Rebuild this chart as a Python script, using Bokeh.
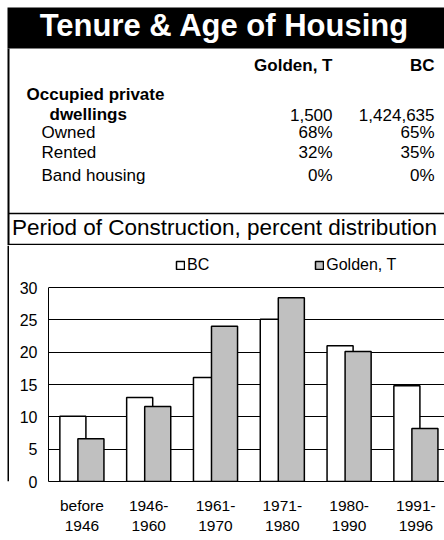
import numpy as np
from bokeh.plotting import figure
from bokeh.models import Range1d, FixedTicker, Legend, LegendItem
from bokeh.layouts import column, row
from bokeh.embed import file_html
from bokeh.resources import INLINE
from bokeh.core.properties import value

# ---------------- data ----------------
title = "Tenure & Age of Housing"
col_headers = ["Golden, T", "BC"]
group_label = ["Occupied private", "dwellings"]
dwellings = ["1,500", "1,424,635"]
row_labels = ["Owned", "Rented", "Band housing"]
golden_tenure = ["68%", "32%", "0%"]
bc_tenure = ["65%", "35%", "0%"]
chart_title = "Period of Construction, percent distribution"
periods = ["before\n1946", "1946-\n1960", "1961-\n1970", "1971-\n1980", "1980-\n1990", "1991-\n1996"]
bc_values = [10.1, 13.0, 16.1, 25.1, 21.0, 14.8]
golden_values = [6.6, 11.6, 24.0, 28.4, 20.1, 8.2]
y_ticks = [0, 5, 10, 15, 20, 25, 30]

FONT = "Liberation Sans"
W = 444
HA = 245
HB = 295
PAD = 9

# ---------------- top panel (table) ----------------
pa = figure(width=W, height=HA, x_range=Range1d(0, W), y_range=Range1d(HA, 0),
            output_backend="svg", toolbar_location=None, min_border=0,
            x_axis_type=None, y_axis_type=None)
pa.grid.visible = False
pa.outline_line_color = None
pa.background_fill_color = "white"
pa.border_fill_color = "white"

pa.quad(left=7, right=W, top=7, bottom=48, fill_color="black", line_color=None)
pa.text(x=[224], y=[25], text=[title], text_font=value(FONT), text_font_style="bold",
        text_font_size="31px", text_color="white", text_align="center", text_baseline="middle")

# header
pa.text(x=[332, 434], y=[65, 65], text=col_headers, text_font=value(FONT), text_font_style="bold",
        text_font_size="17px", text_color="black", text_align="right", text_baseline="middle")
pa.text(x=[26, 49], y=[94, 114], text=group_label, text_font=value(FONT), text_font_style="bold",
        text_font_size="17px", text_color="black", text_align="left", text_baseline="middle")
pa.text(x=[332, 434], y=[114, 114], text=dwellings, text_font=value(FONT),
        text_font_size="17px", text_color="black", text_align="right", text_baseline="middle")

row_y = [132, 152, 175]
pa.text(x=[41] * 3, y=row_y, text=row_labels, text_font=value(FONT),
        text_font_size="17px", text_color="black", text_align="left", text_baseline="middle")
pa.text(x=[332] * 3, y=row_y, text=golden_tenure, text_font=value(FONT),
        text_font_size="17px", text_color="black", text_align="right", text_baseline="middle")
pa.text(x=[434] * 3, y=row_y, text=bc_tenure, text_font=value(FONT),
        text_font_size="17px", text_color="black", text_align="right", text_baseline="middle")

# separators and frame line
pa.segment(x0=[8, 8], y0=[213, 244], x1=[W, W], y1=[213, 244], line_color="black", line_width=1.5)
pa.segment(x0=[8], y0=[48], x1=[8], y1=[HA], line_color="black", line_width=2)
pa.text(x=[224], y=[227], text=[chart_title], text_font=value(FONT),
        text_font_size="22.5px", text_color="black", text_align="center", text_baseline="middle")

# ---------------- left strip ----------------
strip = figure(width=PAD, height=HB, x_range=Range1d(0, PAD), y_range=Range1d(0, HB),
               output_backend="svg", toolbar_location=None, min_border=0,
               x_axis_type=None, y_axis_type=None)
strip.grid.visible = False
strip.outline_line_color = None
strip.background_fill_color = "white"
strip.border_fill_color = "white"
strip.quad(left=7, right=9, bottom=0, top=HB, fill_color="black", line_color=None)

# ---------------- chart ----------------
cat_px = 66.8
frame_left = 48
frame_w = W - frame_left
unit_px = 194 / 30.0
frame_h = 236
pb = figure(width=W - PAD, height=HB, x_range=Range1d(0, frame_w / cat_px),
            y_range=Range1d(0, frame_h / unit_px),
            output_backend="svg", toolbar_location=None,
            min_border_left=frame_left - PAD, min_border_right=0, min_border_top=0,
            min_border_bottom=HB - frame_h)
pb.outline_line_color = None
pb.background_fill_color = "white"
pb.border_fill_color = "white"
pb.xgrid.visible = False
pb.ygrid.grid_line_color = "black"
pb.ygrid.grid_line_width = 1

n = len(periods)
centers = np.arange(n) + 0.5
off = 0.135
bw = 0.39
r_bc = pb.vbar(x=centers - off, top=bc_values, width=bw, fill_color="white",
               line_color="black", line_width=1.5)
r_g = pb.vbar(x=centers + off, top=golden_values, width=bw, fill_color="#c0c0c0",
              line_color="black", line_width=1.5)

pb.yaxis.ticker = FixedTicker(ticks=y_ticks)
pb.yaxis.bounds = (0, 30)
pb.yaxis.major_tick_in = 0
pb.yaxis.major_tick_out = 0
pb.yaxis.minor_tick_in = 0
pb.yaxis.minor_tick_out = 0
pb.yaxis.axis_line_color = "black"
pb.yaxis.axis_line_width = 1
pb.yaxis.major_label_text_font = FONT
pb.yaxis.major_label_text_font_size = "16px"
pb.yaxis.major_label_text_color = "black"
pb.yaxis.major_label_standoff = 11

pb.xaxis.ticker = FixedTicker(ticks=[float(c) for c in centers])
pb.xaxis.major_label_overrides = {float(c): lab for c, lab in zip(centers, periods)}
pb.xaxis.major_tick_in = 0
pb.xaxis.major_tick_out = 0
pb.xaxis.minor_tick_in = 0
pb.xaxis.minor_tick_out = 0
pb.xaxis.axis_line_color = "black"
pb.xaxis.axis_line_width = 1
pb.xaxis.major_label_text_font = FONT
pb.xaxis.major_label_text_font_size = "15.5px"
pb.xaxis.major_label_text_color = "black"
pb.xaxis.major_label_standoff = 15

legend = Legend(items=[LegendItem(label="BC", renderers=[r_bc]),
                       LegendItem(label="Golden, T", renderers=[r_g])],
                location=(127, 207), orientation="horizontal", spacing=105,
                glyph_width=10, glyph_height=10, label_standoff=2, padding=0, margin=0,
                border_line_color=None, background_fill_alpha=0,
                label_text_font=FONT, label_text_font_size="16px", label_text_color="black")
pb.add_layout(legend)

layout = column(pa, row(strip, pb, spacing=0), spacing=0)
open("out.html", "w").write(file_html(layout, INLINE))
